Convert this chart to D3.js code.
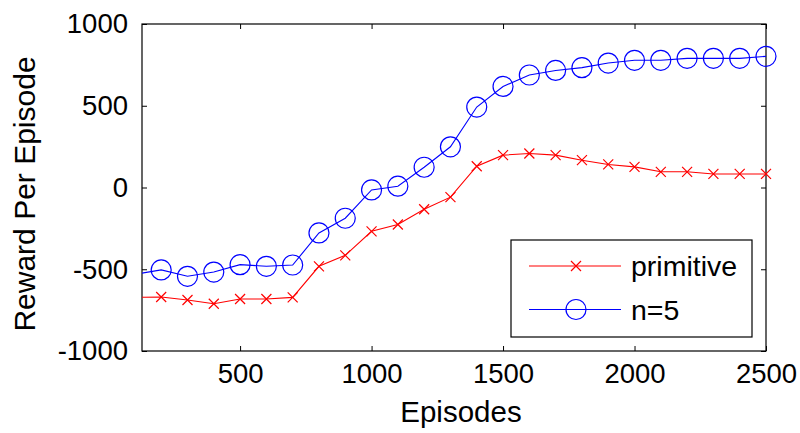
<!DOCTYPE html>
<html>
<head>
<meta charset="utf-8">
<script src="https://cdn.jsdelivr.net/npm/d3@7"></script>
<style>
  body { margin: 0; background: #fff; }
  text { font-family: Arial, "Liberation Sans", sans-serif; fill: #000; }
</style>
</head>
<body>
<div id="chart"></div>
<script>
// data
const episodes = [100, 200, 300, 400, 500, 600, 700, 800, 900, 1000, 1100, 1200, 1300,
    1400, 1500, 1600, 1700, 1800, 1900, 2000, 2100, 2200, 2300, 2400, 2500];
const primitive = [-672, -670, -688, -711, -682, -682, -672, -482, -415, -268, -226, -133, -59,
    130, 198, 208, 198, 167, 141, 126, 96, 96, 83, 83, 83];
const nStep5 = [-531, -504, -543, -517, -472, -482, -474, -278, -188, -15, 8, 124, 249,
    492, 618, 688, 716, 733, 761, 778, 778, 790, 790, 790, 802];
const xTicks = [500, 1000, 1500, 2000, 2500];
const yTicks = [-1000, -500, 0, 500, 1000];

const W = 800, H = 433;
const margin = { top: 24, right: 34, bottom: 82, left: 142 };
const width = W - margin.left - margin.right;
const height = H - margin.top - margin.bottom;

const svg = d3.select("#chart").append("svg")
    .attr("width", W)
    .attr("height", H);

const g = svg.append("g")
    .attr("transform", `translate(${margin.left},${margin.top})`);

const x = d3.scaleLinear().domain([127, 2500]).range([0, width]);
const y = d3.scaleLinear().domain([-1000, 1000]).range([height, 0]);

g.append("clipPath").attr("id", "clip")
    .append("rect").attr("width", width).attr("height", height);

// axes, MATLAB style box with inward ticks; plain hyphen for negatives
const tickLen = 5;
const fmt = d => String(d);
g.append("g")
    .attr("transform", `translate(0,${height})`)
    .call(d3.axisBottom(x).tickValues(xTicks).tickSize(-tickLen).tickPadding(12).tickFormat(fmt))
    .call(a => a.select(".domain").remove());
g.append("g")
    .call(d3.axisTop(x).tickValues(xTicks).tickSize(-tickLen).tickFormat(""))
    .call(a => a.select(".domain").remove());
g.append("g")
    .call(d3.axisLeft(y).tickValues(yTicks).tickSize(-tickLen).tickPadding(14).tickFormat(fmt))
    .call(a => a.select(".domain").remove());
g.append("g")
    .attr("transform", `translate(${width},0)`)
    .call(d3.axisRight(y).tickValues(yTicks).tickSize(-tickLen).tickFormat(""))
    .call(a => a.select(".domain").remove());

g.selectAll(".tick text")
    .style("font-size", "27.5px")
    .style("font-family", "Arial, 'Liberation Sans', sans-serif");
g.selectAll(".tick line").attr("stroke", "#000");

g.append("rect")
    .attr("width", width).attr("height", height)
    .attr("fill", "none").attr("stroke", "#000").attr("stroke-width", 1.2);

// series
const series = [
    { name: "primitive", values: primitive, color: "#ff0000", marker: "cross" },
    { name: "n=5", values: nStep5, color: "#0000ff", marker: "circle" }
];

const line = d3.line()
    .x(d => x(d[0]))
    .y(d => y(d[1]));

function drawMarker(sel, type, color) {
    if (type === "circle") {
        sel.append("circle").attr("r", 10)
            .attr("fill", "none").attr("stroke", color).attr("stroke-width", 1.2);
    } else {
        sel.append("path").attr("d", "M-5,-5L5,5M-5,5L5,-5")
            .attr("stroke", color).attr("stroke-width", 1.2);
    }
}

series.forEach(s => {
    const pts = episodes.map((e, i) => [e, s.values[i]]);
    g.append("path")
        .datum(pts)
        .attr("clip-path", "url(#clip)")
        .attr("d", line)
        .attr("fill", "none")
        .attr("stroke", s.color)
        .attr("stroke-width", 1.1);
    g.selectAll(null)
        .data(pts.filter(p => p[0] >= x.domain()[0]))
        .enter().append("g")
        .attr("transform", p => `translate(${x(p[0])},${y(p[1])})`)
        .each(function () { drawMarker(d3.select(this), s.marker, s.color); });
});

// legend
const lg = svg.append("g").attr("transform", "translate(511,240)");
lg.append("rect")
    .attr("width", 241).attr("height", 97)
    .attr("fill", "#fff").attr("stroke", "#000").attr("stroke-width", 1.2);
series.forEach((s, i) => {
    const row = lg.append("g").attr("transform", `translate(0,${26 + i * 43.5})`);
    row.append("line")
        .attr("x1", 18).attr("x2", 110)
        .attr("stroke", s.color).attr("stroke-width", 1.1);
    const m = row.append("g").attr("transform", "translate(65,0)");
    drawMarker(m, s.marker, s.color);
    row.append("text")
        .attr("x", 120).attr("y", 10)
        .style("font-size", "28.5px")
        .text(s.name);
});

// axis titles
svg.append("text")
    .attr("x", margin.left + x(1340)).attr("y", 422)
    .attr("text-anchor", "middle")
    .style("font-size", "29.5px")
    .text("Episodes");

svg.append("text")
    .attr("transform", "translate(34.5,194) rotate(-90)")
    .attr("text-anchor", "middle")
    .style("font-size", "30px")
    .text("Reward Per Episode");
</script>
</body>
</html>
